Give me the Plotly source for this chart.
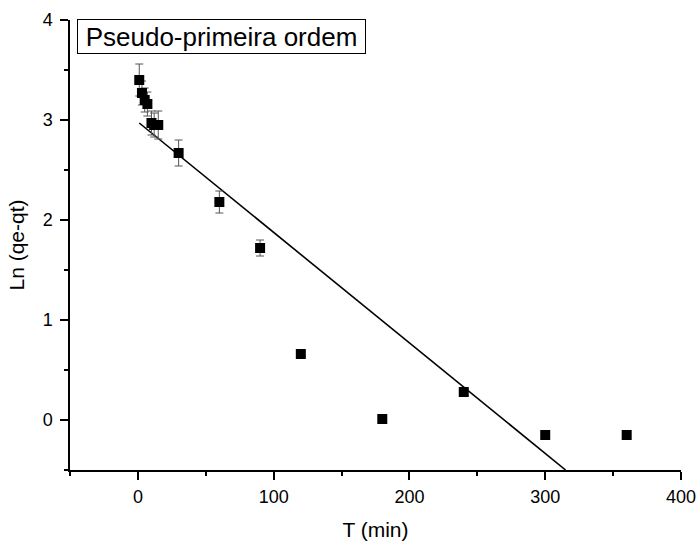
import plotly.graph_objects as go

# Data
t_min = [1, 3, 5, 7, 10, 12, 15, 30, 60, 90, 120, 180, 240, 300, 360]
ln_qe_qt = [3.40, 3.27, 3.20, 3.16, 2.97, 2.95, 2.95, 2.67, 2.18, 1.72, 0.66, 0.01, 0.28, -0.15, -0.15]
err = [0.16, 0.12, 0.12, 0.12, 0.12, 0.12, 0.14, 0.13, 0.11, 0.08, 0.0, 0.0, 0.0, 0.0, 0.0]

fit_x = [1, 315]
fit_y = [2.97, -0.5]

x_ticks = [0, 100, 200, 300, 400]
y_ticks = [0, 1, 2, 3, 4]

font = "Liberation Sans, Arial, sans-serif"

fig = go.Figure()
fig.add_trace(go.Scatter(
    x=fit_x, y=fit_y, mode="lines",
    line=dict(color="black", width=1.6), showlegend=False))
fig.add_trace(go.Scatter(
    x=t_min, y=ln_qe_qt, mode="markers",
    marker=dict(symbol="square", size=10, color="black"),
    error_y=dict(type="data", array=err, visible=True, color="#555555", thickness=1, width=4),
    showlegend=False))

axis_common = dict(
    showgrid=False, zeroline=False, showline=True, linecolor="black", linewidth=1.5,
    ticks="outside", ticklen=8, tickwidth=1.5, tickcolor="black",
    tickfont=dict(family=font, size=18, color="black"),
    minor=dict(ticks="outside", ticklen=4, tickwidth=1.5, tickcolor="black"),
    mirror=False, automargin=False,
)

fig.update_xaxes(range=[-50, 400], tickvals=x_ticks, **axis_common,
                 minor_tickvals=[-50, 50, 150, 250, 350], ticklabelstandoff=2,
                 title=dict(text="T (min)", font=dict(family=font, size=21, color="black"), standoff=16))
fig.update_yaxes(range=[-0.5, 4.0], tickvals=y_ticks, **axis_common,
                 minor_tickvals=[-0.5, 0.5, 1.5, 2.5, 3.5], ticklabelstandoff=4,
                 title=dict(text="Ln (qe-qt)", font=dict(family=font, size=21, color="black"), standoff=12))

fig.add_annotation(
    xref="paper", yref="paper", x=0.0115, y=1.002, xanchor="left", yanchor="top",
    text="Pseudo-primeira ordem", showarrow=False,
    font=dict(family=font, size=26, color="black"),
    width=283, height=29, align="center", valign="middle",
    bordercolor="black", borderwidth=1, borderpad=2, bgcolor="white")

fig.update_layout(
    width=699, height=541,
    margin=dict(l=70, r=18, t=20, b=71),
    plot_bgcolor="white", paper_bgcolor="white",
)

fig.write_html("out.html")
